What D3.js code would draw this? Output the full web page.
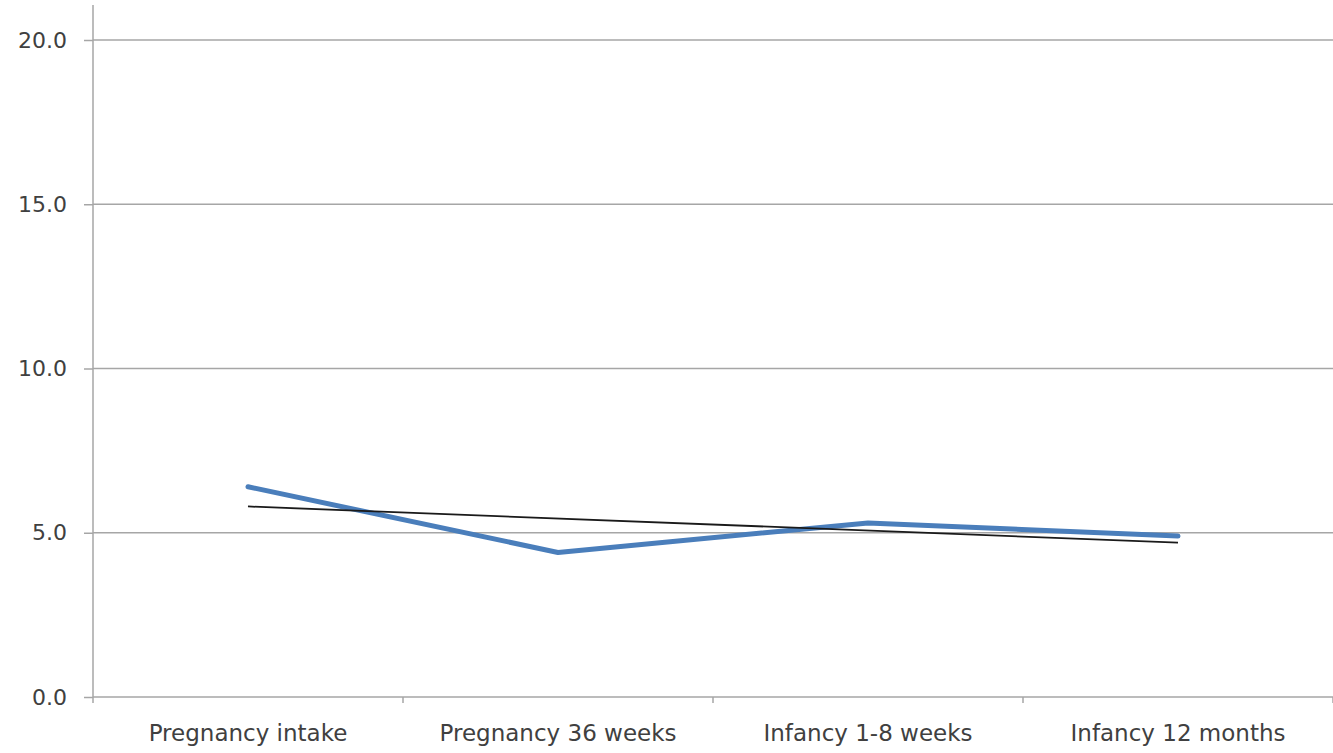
<!DOCTYPE html>
<html><head><meta charset="utf-8">
<script src="https://cdn.jsdelivr.net/npm/d3@7"></script>
<style>body{margin:0;background:#fff}svg{display:block}</style>
</head><body>
<svg id="c" width="1333" height="753"></svg>
<script>
const categories = ["Pregnancy intake","Pregnancy 36 weeks","Infancy 1-8 weeks","Infancy 12 months"];
const values = [6.4, 4.4, 5.3, 4.9];
const trendValues = [5.8, 4.7]; // linear trendline, first and last category
const yTicks = [0, 5, 10, 15, 20];

const svg = d3.select("#c");
const L = 93, R = 1333, T = 40, B = 697;
const x = d3.scaleBand().domain(categories).range([L, R]);
const y = d3.scaleLinear().domain([0, 20]).range([B, T]);
const font = "'DejaVu Sans', sans-serif";

// gridlines
svg.append("g").selectAll("line").data(yTicks.filter(d => d > 0)).join("line")
  .attr("x1", L).attr("x2", R).attr("y1", d => y(d)).attr("y2", d => y(d))
  .attr("stroke", "#a6a6a6").attr("stroke-width", 1.5);

// y axis
const ya = svg.append("g").attr("transform", `translate(${L},0)`)
  .call(d3.axisLeft(y).tickValues(yTicks).tickSize(9).tickPadding(17).tickFormat(d3.format(".1f")));
ya.select(".domain").attr("d", `M0,5V${B}`).attr("stroke", "#a6a6a6").attr("stroke-width", 1.5);
ya.selectAll(".tick line").attr("stroke", "#a6a6a6").attr("stroke-width", 1.5);
ya.selectAll("text").attr("font-family", font).attr("font-size", 22).attr("fill", "#404040");

// x axis
const xa = svg.append("g").attr("transform", `translate(0,${B})`)
  .call(d3.axisBottom(x).tickSize(0).tickPadding(28));
xa.select(".domain").attr("d", `M${L},0H${R}`).attr("stroke", "#a6a6a6").attr("stroke-width", 1.5);
xa.selectAll("text").attr("font-family", font).attr("font-size", 23).attr("fill", "#404040");
// category boundary ticks
svg.append("g").selectAll("line").data(d3.range(categories.length + 1)).join("line")
  .attr("x1", i => L + i * x.step()).attr("x2", i => L + i * x.step())
  .attr("y1", B).attr("y2", B + 6).attr("stroke", "#a6a6a6").attr("stroke-width", 1.5);

const cx = d => x(d) + x.bandwidth() / 2;

// blue series
svg.append("path").datum(values)
  .attr("d", d3.line().x((d, i) => cx(categories[i])).y(d => y(d)))
  .attr("fill", "none").attr("stroke", "#4a7ebb").attr("stroke-width", 5)
  .attr("stroke-linecap", "round").attr("stroke-linejoin", "round");

// trendline
svg.append("line")
  .attr("x1", cx(categories[0])).attr("y1", y(trendValues[0]))
  .attr("x2", cx(categories[categories.length - 1])).attr("y2", y(trendValues[1]))
  .attr("stroke", "#1a1a1a").attr("stroke-width", 1.8);
</script>
</body></html>
